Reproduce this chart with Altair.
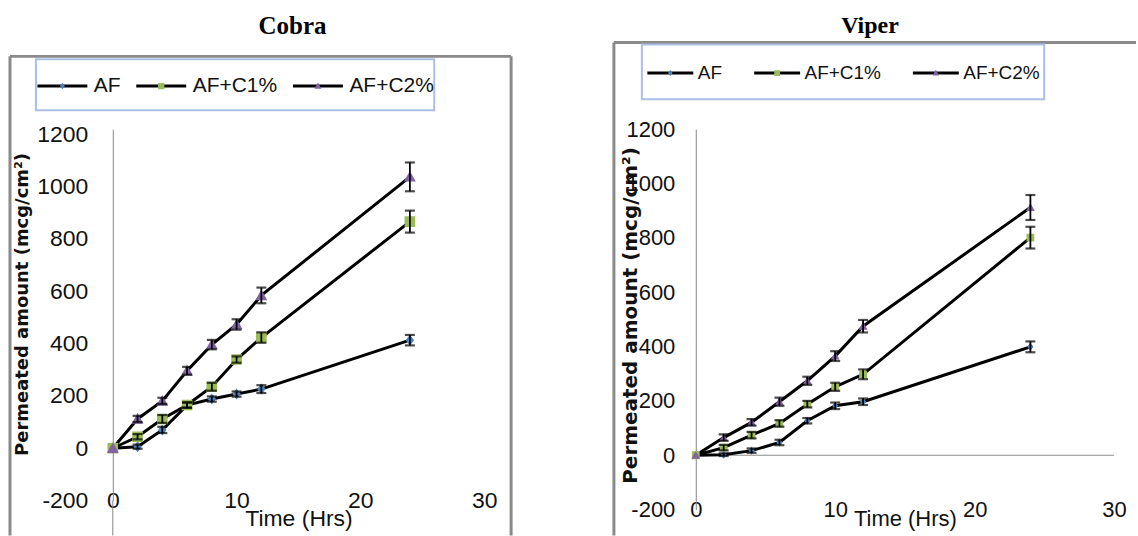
import altair as alt
import pandas as pd

# ---------------- data ----------------
TIME = [0, 2, 4, 6, 8, 10, 12, 24]
SERIES = ["AF", "AF+C1%", "AF+C2%"]
COLORS = ["#4F81BD", "#9BBB59", "#8064A2"]
Y_TICKS = [-200, 0, 200, 400, 600, 800, 1000, 1200]
X_TICKS = [0, 10, 20, 30]

COBRA_AF = [0, 6, 70, 165, 188, 207, 226, 413]
COBRA_C1 = [0, 44, 112, 165, 235, 339, 423, 866]
COBRA_C2 = [0, 112, 181, 296, 396, 473, 584, 1037]
COBRA_AF_ERR = [0, 8, 12, 10, 10, 10, 15, 20]
COBRA_C1_ERR = [0, 10, 15, 10, 15, 12, 20, 42]
COBRA_C2_ERR = [0, 12, 12, 15, 18, 20, 30, 55]

VIPER_AF = [0, 2, 17, 47, 127, 182, 197, 399]
VIPER_C1 = [0, 28, 74, 117, 188, 252, 298, 801]
VIPER_C2 = [0, 65, 121, 197, 274, 365, 475, 912]
VIPER_AF_ERR = [0, 5, 8, 10, 10, 12, 12, 20]
VIPER_C1_ERR = [0, 10, 12, 12, 12, 15, 18, 40]
VIPER_C2_ERR = [0, 12, 12, 15, 15, 18, 23, 46]

SANS = "Liberation Sans, Arial, sans-serif"
FRAME = "#8a8a8a"


def build_df(vals, errs):
    rows = []
    for s, v, e in zip(SERIES, vals, errs):
        for t, vv, ee in zip(TIME, v, e):
            rows.append({"series": s, "series2": s, "t": t, "v": vv,
                         "err": ee, "lo": vv - ee, "hi": vv + ee})
    return pd.DataFrame(rows)


def shape_paths(ext_left, ext_v):
    pre = f"M{-ext_left},0M0,{-ext_v}M0,{ext_v}M-1,0L1,0"
    hd, hs, ht = 0.10, 0.125, 0.14
    diamond = pre + f"M0,{-hd*1.3:.3f}L{hd},0L0,{hd*1.3:.3f}L{-hd},0Z"
    square = pre + f"M{-hs},{-hs}L{hs},{-hs}L{hs},{hs}L{-hs},{hs}Z"
    tri = pre + f"M0,{-ht}L{ht},{ht*0.8:.3f}L{-ht},{ht*0.8:.3f}Z"
    return pre, [diamond, square, tri]


def panel(name, df, g):
    W, H = g["W"], g["H"]
    pre, paths = shape_paths(g["ext_left"], g["ext_v"])

    xs = alt.Scale(domain=[0, 30], nice=False, zero=False)
    ys = alt.Scale(domain=[-200, g["ymax"]], nice=False, zero=False)
    xaxis = alt.Axis(values=X_TICKS, labelFont=SANS, labelFontSize=g["lab"],
                     labelColor="#111", labelBaseline="middle", labelPadding=0,
                     labelFlush=False, ticks=False, domain=False, grid=False,
                     title="Time (Hrs)", titleFont=SANS, titleFontSize=g["xtfs"],
                     titleFontWeight="normal", titleColor="#111",
                     titleY=g["xtitleY"], titleBaseline="middle")
    yaxis = alt.Axis(values=Y_TICKS, labelExpr="'' + datum.value",
                     labelFont=SANS, labelFontSize=g["lab"], labelColor="#111",
                     labelPadding=g["ylabpad"], labelFlush=False, ticks=False, domain=True,
                     domainColor="#868686", domainWidth=1, grid=False,
                     title="Permeated amount (mcg/cm²)", titleFont="DejaVu Sans",
                     titleFontWeight="bold", titleFontSize=g["ytfs"], titleColor="#111",
                     titleAngle=270, titleAlign="center", titleBaseline="middle",
                     titleX=g["ytitleX"], titleY=g["ytitleY"])
    X = alt.X("t:Q", scale=xs, axis=xaxis)
    Y = alt.Y("v:Q", scale=ys, axis=yaxis)

    common_leg = dict(orient="none", legendX=g["legX"], legendY=g["legY"],
                      direction="horizontal", title=None, symbolSize=g["symsize"],
                      symbolStrokeWidth=3, labelFont=SANS, labelFontSize=g["legfs"],
                      labelOffset=g["laboff"], columnPadding=g["colpad"],
                      padding=g["legpad"], labelLimit=300)
    legA = alt.Legend(symbolType=pre, symbolStrokeColor="black",
                      symbolFillColor="transparent", labelOpacity=0,
                      strokeColor="#a9c0e4", zindex=1, **common_leg)
    legB = alt.Legend(symbolStrokeColor="transparent", symbolOpacity=1,
                      labelColor="#111", zindex=2, **common_leg)

    one = pd.DataFrame({"a": [0]})
    fl, fr, ft, fb = g["frame"]
    frame_layers = []
    if fl is not None:
        frame_layers.append(alt.Chart(one).mark_rule(color=FRAME, strokeWidth=3).encode(
            x=alt.value(fl), y=alt.value(ft), y2=alt.value(fb)))
    if fr is not None:
        frame_layers.append(alt.Chart(one).mark_rule(color=FRAME, strokeWidth=3).encode(
            x=alt.value(fr), y=alt.value(ft), y2=alt.value(fb)))
    frame_layers.append(alt.Chart(one).mark_rule(color=FRAME, strokeWidth=3).encode(
        x=alt.value(fl), x2=alt.value(g["topright"]), y=alt.value(ft)))

    extra = []
    if g["zero_line"]:
        extra.append(alt.Chart(one).mark_rule(color="#8c8c8c", strokeWidth=1).encode(
            x=alt.X(datum=0, type="quantitative", scale=xs, axis=xaxis),
            x2=alt.X2(datum=30),
            y=alt.Y(datum=0, type="quantitative", scale=ys, axis=yaxis)))
    if g["axis_ext"]:
        extra.append(alt.Chart(one).mark_rule(color="#868686", strokeWidth=1).encode(
            x=alt.X(datum=0, type="quantitative", scale=xs, axis=xaxis),
            y=alt.value(H), y2=alt.value(fb)))

    base = alt.Chart(df)
    lines = base.mark_line(strokeWidth=3).encode(
        x=X, y=Y,
        stroke=alt.Stroke("series:N", scale=alt.Scale(range=["black"] * 3), legend=legA))
    points = base.mark_point(filled=True, size=g["ptsize"], opacity=1).encode(
        x=X, y=Y,
        fill=alt.Fill("series2:N", scale=alt.Scale(range=COLORS), legend=legB),
        shape=alt.Shape("series2:N", scale=alt.Scale(range=paths), legend=legB))
    eb = base.transform_filter("datum.err > 0")
    err_rule = eb.mark_rule(color="black", strokeWidth=1.8).encode(
        x=X, y=alt.Y("lo:Q", scale=ys, axis=yaxis), y2="hi:Q")
    cap_lo = eb.mark_tick(color="black", orient="horizontal", size=10, thickness=2.2).encode(
        x=X, y=alt.Y("lo:Q", scale=ys, axis=yaxis))
    cap_hi = eb.mark_tick(color="black", orient="horizontal", size=10, thickness=2.2).encode(
        x=X, y=alt.Y("hi:Q", scale=ys, axis=yaxis))

    return alt.layer(*frame_layers, *extra, lines, points, err_rule, cap_lo, cap_hi).properties(
        width=W, height=H,
        title=alt.TitleParams(text=name, font="Liberation Serif", fontSize=g["tfs"],
                              fontWeight="bold", color="black", anchor="middle",
                              frame="group", dx=g["tdx"], offset=g["toff"],
                              baseline="alphabetic"))


# plot origin (top-left of data rectangle): Cobra (112.7,128), Viper (696,128)
cobra_geom = dict(W=372, H=372, ymax=1219, lab=23, xtfs=23, xtitleY=18, ylabpad=25,
                  ytfs=18, ytitleX=-90, ytitleY=175,
                  legX=-77, legY=-70, symsize=2500, legfs=21, laboff=5, colpad=0,
                  legpad=0, ext_left=1.35, ext_v=0.72,
                  ptsize=7200, frame=(-103, 399, -73, 407), topright=399,
                  zero_line=False, axis_ext=True, tfs=25, tdx=-6, toff=-4.5)
viper_geom = dict(W=419, H=381, ymax=1200, lab=22, xtfs=22, xtitleY=9, ylabpad=21,
                  ytfs=20, ytitleX=-65, ytitleY=186,
                  legX=-54, legY=-85, symsize=2116, legfs=19, laboff=3, colpad=4,
                  legpad=4, ext_left=1.91, ext_v=0.7,
                  ptsize=3900, frame=(-82, None, -87, 407), topright=441,
                  zero_line=True, axis_ext=False, tfs=24, tdx=-35, toff=-16)

cobra = panel("Cobra", build_df([COBRA_AF, COBRA_C1, COBRA_C2],
                                [COBRA_AF_ERR, COBRA_C1_ERR, COBRA_C2_ERR]), cobra_geom)
viper = panel("Viper", build_df([VIPER_AF, VIPER_C1, VIPER_C2],
                                [VIPER_AF_ERR, VIPER_C1_ERR, VIPER_C2_ERR]), viper_geom)

chart = alt.hconcat(cobra, viper, spacing=99).resolve_scale(
    stroke="independent", fill="independent", shape="independent"
).resolve_legend(
    stroke="independent", fill="independent", shape="independent"
).properties(
    padding={"left": 8, "top": 13, "right": 0, "bottom": 0},
    background="white",
).configure_view(stroke=None).configure_legend(strokeWidth=2)

chart.save("out.html", embed_options={"renderer": "svg", "actions": False})
